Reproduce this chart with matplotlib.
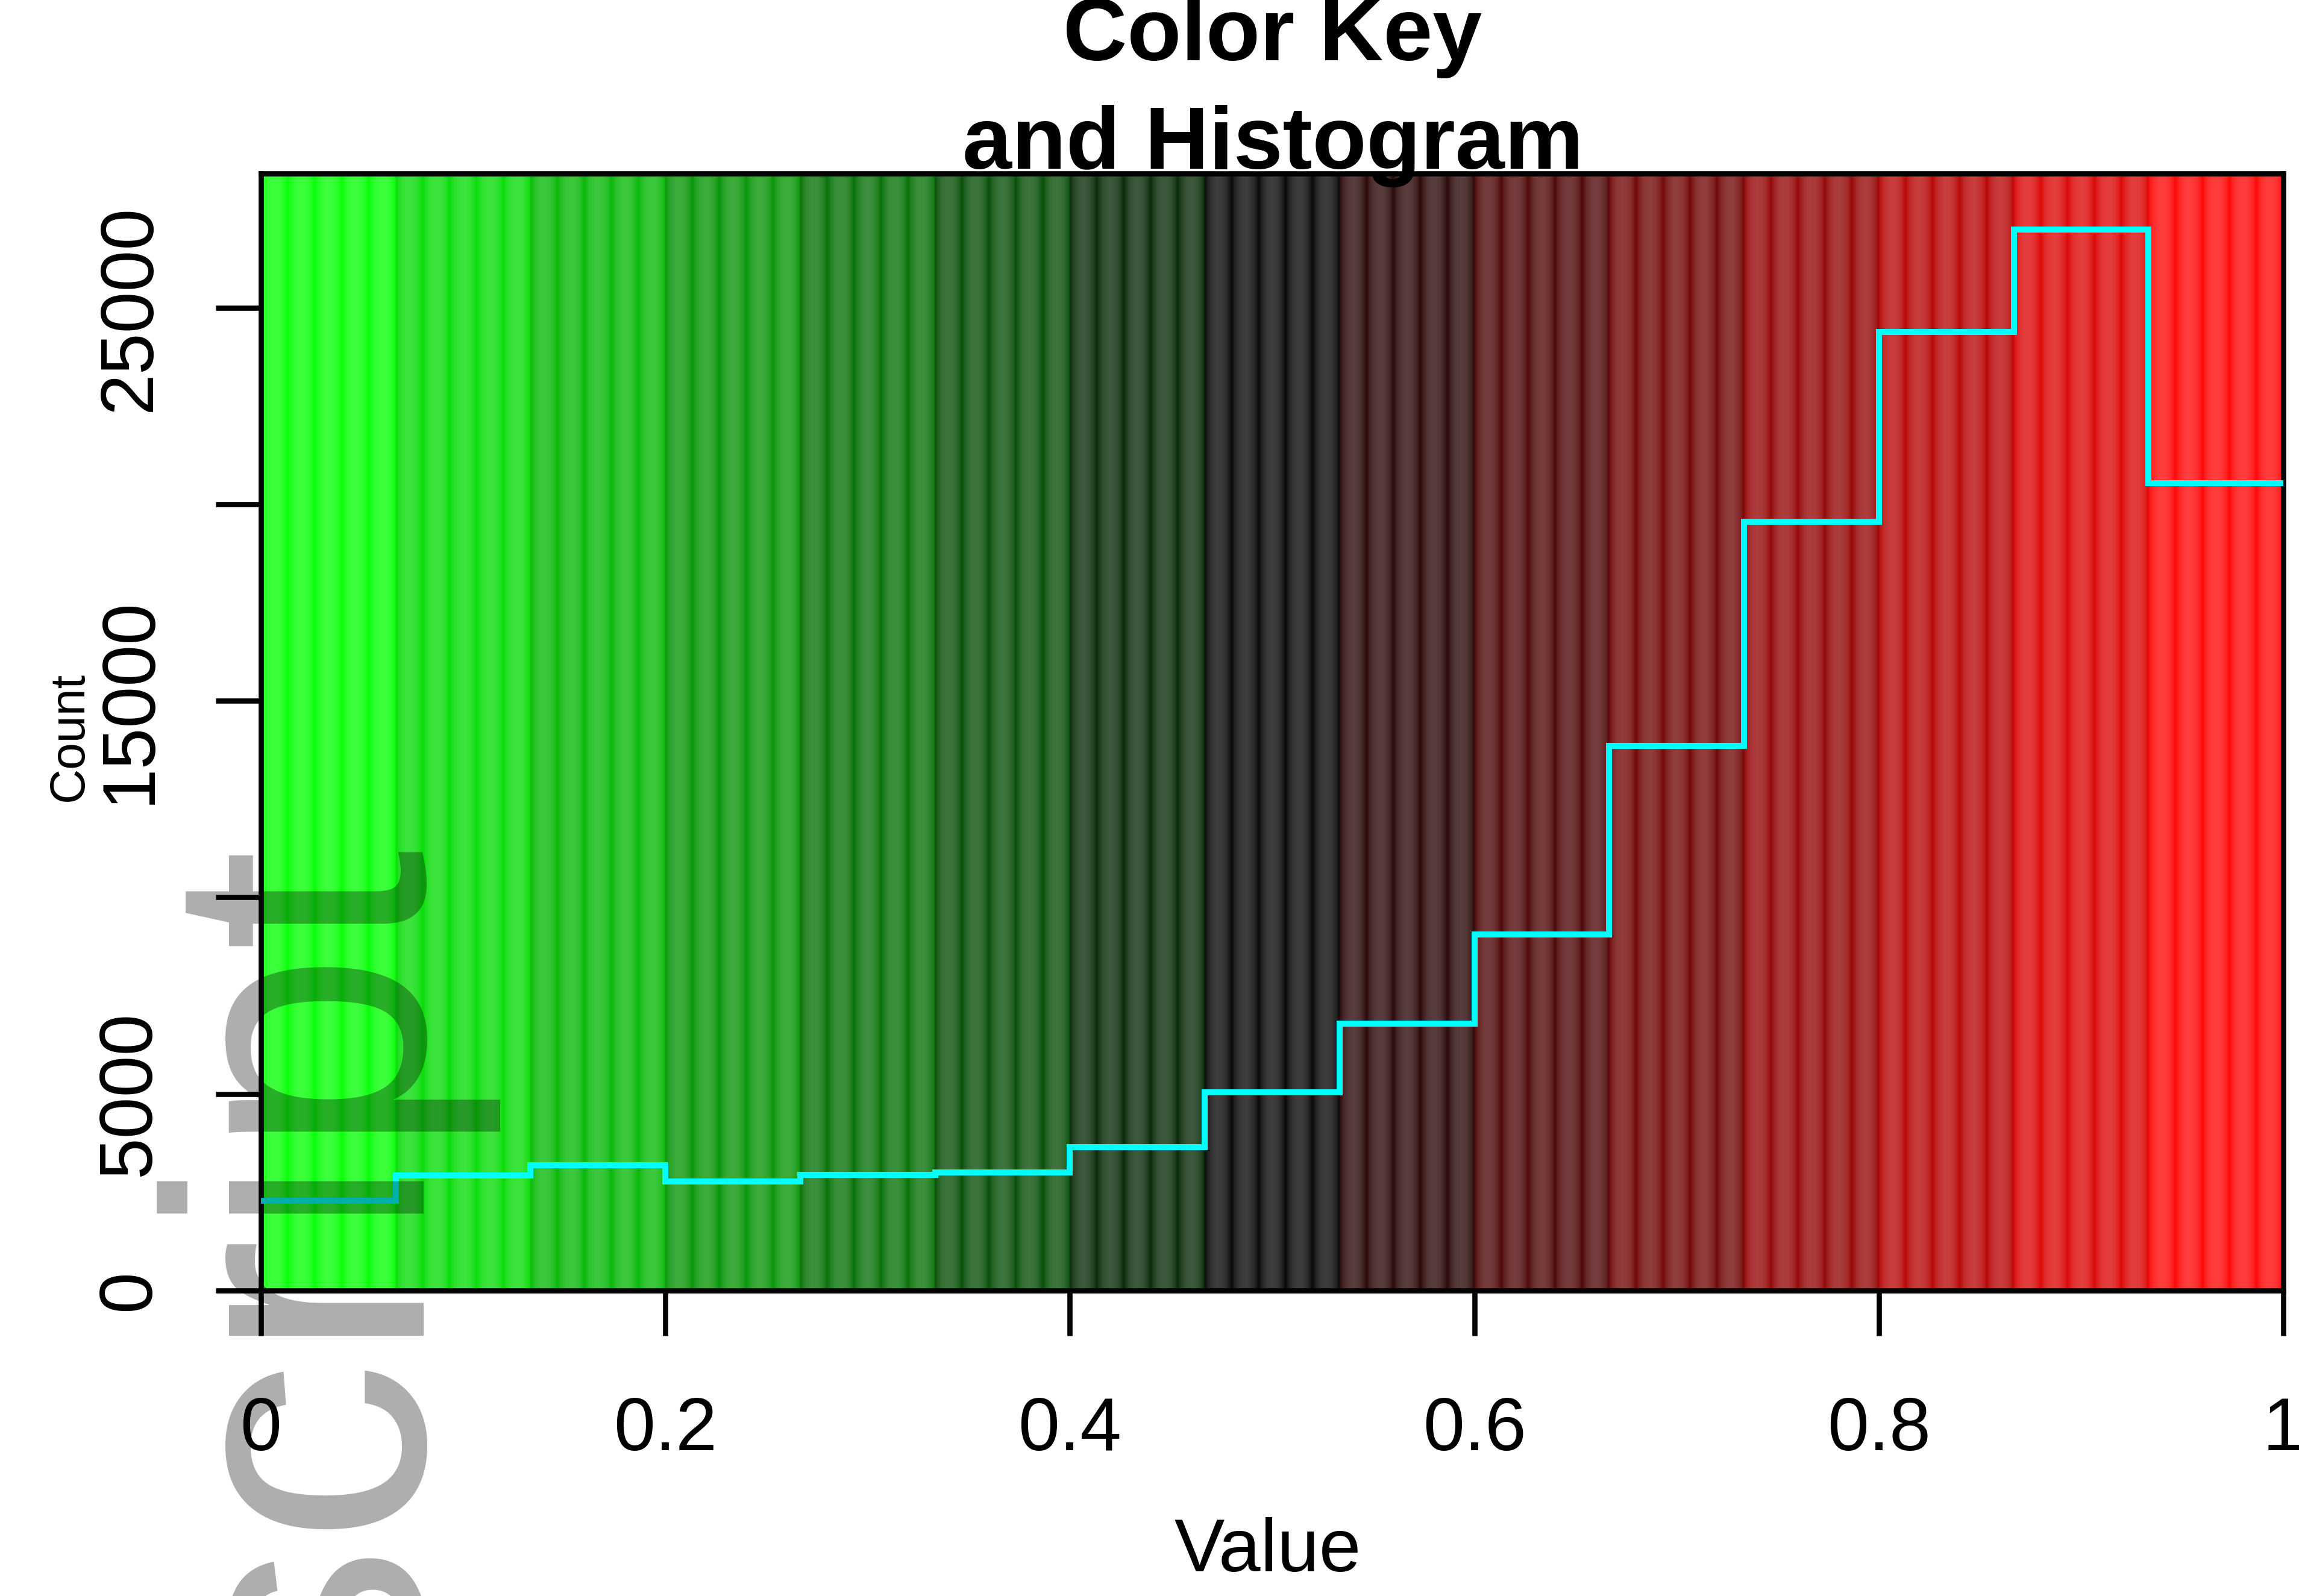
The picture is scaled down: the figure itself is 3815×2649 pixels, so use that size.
import numpy as np
import matplotlib
matplotlib.use("Agg")
import matplotlib.pyplot as plt
from matplotlib.colors import to_rgb

# ---------------- data ----------------
breaks = [i / 15 for i in range(16)]
counts = [2290, 2930, 3180, 2770, 2940, 3010, 3650, 5040, 6790, 9050,
          13860, 19550, 24380, 26990, 20530]
bin_colors = ["#00FF00", "#00DB00", "#00B600", "#009200", "#006D00",
              "#004900", "#002400", "#000000", "#240000", "#490000",
              "#6D0000", "#920000", "#B60000", "#DB0000", "#FF0000"]
x_ticks = [0, 0.2, 0.4, 0.6, 0.8, 1]
x_tick_labels = ["0", "0.2", "0.4", "0.6", "0.8", "1"]
y_ticks = [0, 5000, 10000, 15000, 20000, 25000]
y_tick_labels = ["0", "5000", "", "15000", "", "25000"]
title_lines = ["Color Key", "and Histogram"]
x_label = "Value"
y_label = "Count"
watermark = "Author Manuscript"

# ---------------- figure ----------------
W, H = 3816, 2649
DPI = 100
plt.rcParams['font.family'] = ['Liberation Sans', 'DejaVu Sans']
fig = plt.figure(figsize=(W / DPI, H / DPI), dpi=DPI)
fig.patch.set_facecolor("white")

def fx(px):
    return px / W

def fy(py):
    return 1 - py / H

L, R, T, B = 433, 3789, 288, 2142
ax = fig.add_axes([fx(L), fy(B), fx(R) - fx(L), fy(T) - fy(B)])

ymax = max(counts) / 0.95

# colour key with the striped rendering look
sub = 5          # stripes per bin
res = 24         # samples per stripe
cols = []
for c in bin_colors:
    rgb = np.array(to_rgb(c))
    for k in range(sub):
        for j in range(res):
            ph = (j + 0.5) / res
            w = 0.24 * np.sin(np.pi * ph) ** 0.6
            cols.append(rgb * (1 - w) + w)
img = np.array(cols)[None, :, :]
ax.imshow(img, extent=[0, 1, 0, ymax], aspect="auto",
          interpolation="bilinear", origin="lower", zorder=0)

# histogram line
hy = counts + [counts[-1]]
ax.step(breaks, hy, where="post", color="#00FFFF", lw=7.2, zorder=3,
        solid_joinstyle="miter")

ax.set_xlim(0, 1)
ax.set_ylim(0, ymax)

for sp in ax.spines.values():
    sp.set_linewidth(6.2)
    sp.set_color("black")

ax.set_xticks(x_ticks, x_tick_labels)
ax.set_yticks(y_ticks, y_tick_labels)
ax.tick_params(axis="both", direction="out", length=54, width=6.2,
               color="black", labelsize=89)
ax.tick_params(axis="x", pad=137)
ax.tick_params(axis="y", pad=79)
for lab in ax.get_xticklabels():
    lab.set_va("baseline")
    lab.set_ha("center")
for lab in ax.get_yticklabels():
    lab.set_rotation(90)
    lab.set_rotation_mode("anchor")
    lab.set_ha("center")
    lab.set_va("baseline")

# titles and labels
fig.text(fx(2112), fy(100), title_lines[0], ha="center", va="baseline",
         fontsize=106, fontweight="bold", zorder=5)
fig.text(fx(2112), fy(280), title_lines[1], ha="center", va="baseline",
         fontsize=106, fontweight="bold", zorder=5)
fig.text(fx(2104), fy(2608), x_label, ha="center", va="baseline", fontsize=90)
fig.text(fx(137), fy(1222), y_label, rotation=90, rotation_mode="anchor",
         ha="center", va="baseline", fontsize=58)

# watermark (dark translucent overlay, acts like a multiply)
fig.text(fx(704), fy(1409), watermark, rotation=90, rotation_mode="anchor",
         ha="right", va="baseline", fontsize=440, color="black", alpha=0.32,
         zorder=10)

fig.savefig("out.png", dpi=DPI)
